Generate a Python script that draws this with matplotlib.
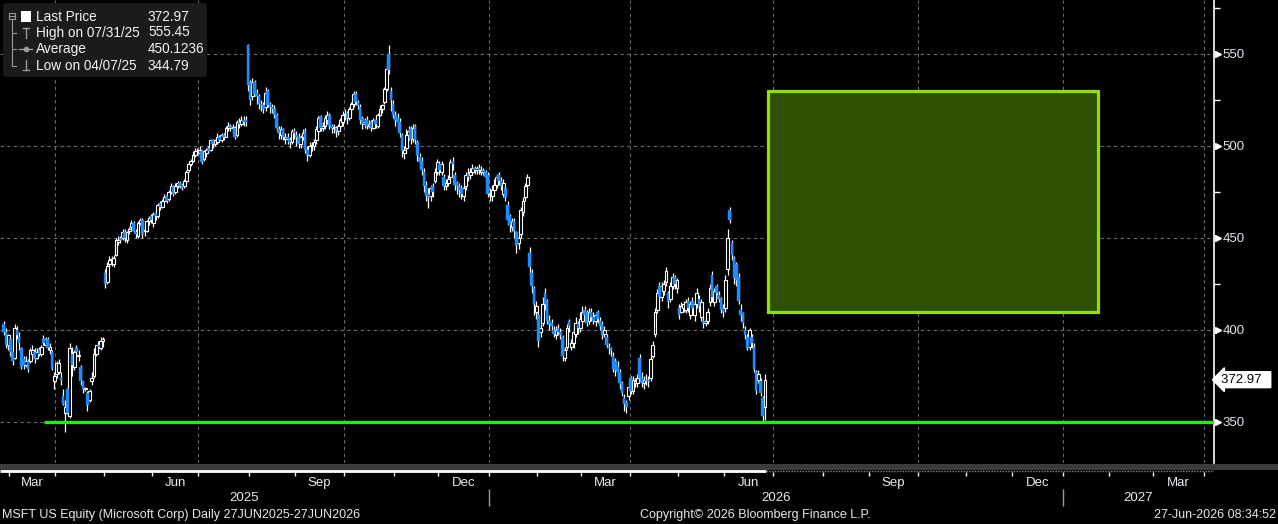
import numpy as np
import pandas as pd
import matplotlib
matplotlib.use('Agg')
import matplotlib.pyplot as plt
import matplotlib.transforms as mtransforms
from matplotlib.patches import Rectangle, FancyBboxPatch

plt.rcParams['font.family'] = ['Liberation Sans', 'DejaVu Sans']

# daily candles (one value per weekday from 26 Feb 2025)
opens = [
    403, 399, 392,  # Feb 25
    395, 388, 385, 400, 396, 390, 384, 381, 383, 383, 387, 388, 385, 389, 387, 395, 392, 395, 389, 388, 372,
    376, 377, 374, 364, 355, 368, 353, 387, 380, 390, 386, 380, 372, 368, 366, 362, 372, 375, 387, 392, 390, 394,
    431, 426, 436, 438, 436, 441, 448, 450, 450, 453, 449, 454, 456, 458, 453, 451, 458, 460, 454, 454, 459, 462,
    458, 463, 462, 469, 467, 470, 473, 471, 475, 478, 475, 478, 480, 479, 478, 481, 487, 490, 492, 495, 497,
    496, 497, 493, 496, 499, 498, 503, 501, 502, 505, 503, 506, 505, 510, 511, 510, 510, 506, 513, 512, 514, 514, 555,
    535, 527, 535, 529, 527, 523, 522, 521, 530, 523, 521, 520, 517, 509, 506, 509, 504, 505, 503, 502, 508,
    506, 505, 501, 505, 508, 498, 495, 500, 500, 503, 508, 516, 510, 511, 514, 517, 511, 510, 510, 508, 511, 513,
    517, 518, 515, 520, 523, 528, 524, 521, 515, 512, 514, 511, 513, 510, 514, 511, 517, 520, 524, 531, 550, 530, 523,
    517, 515, 513, 506, 496, 499, 506, 509, 504, 511, 502, 494, 492, 486, 479, 474, 473, 478, 481, 486,
    490, 486, 483, 478, 480, 483, 491, 484, 480, 478, 477, 473, 478, 485, 484, 486, 488, 487, 488, 486, 487, 486, 484,
    474, 473, 476, 479, 484, 481, 474, 477, 468, 462, 456, 459, 453, 447, 452, 464, 472, 479, 442, 431, 423, 410,
    408, 399, 404, 420, 416, 405, 404, 400, 397, 401, 399, 396, 385, 391, 405, 391, 393, 398, 404, 401,
    405, 411, 410, 405, 410, 407, 405, 410, 405, 403, 398, 396, 391, 390, 386, 383, 380, 377, 371, 363, 361, 364, 374, 367, 371,
    371, 385, 374, 371, 373, 373, 374, 386, 398, 411, 424, 418, 421, 426, 420, 417, 424, 429, 423, 412, 410, 412, 411, 416, 408,
    416, 408, 414, 417, 407, 405, 404, 405, 415, 430, 415, 424, 419, 417, 412, 412, 433, 465, 447, 439, 436,
    429, 411, 409, 400, 396, 391, 396, 391, 377, 373, 372, 363, 358,
]
highs = [
    405, 401, 398,
    397, 392, 403, 402, 399, 391, 386, 386, 384, 390, 392, 390, 390, 391, 392, 397, 396, 396, 393, 389, 377,
    383, 384, 377, 368, 362, 370, 393, 391, 389, 392, 389, 381, 372, 369, 367, 368, 377, 390, 392, 394, 396, 396,
    433, 437, 440, 440, 441, 450, 451, 451, 455, 455, 454, 456, 460, 459, 455, 459, 461, 461, 456, 460, 462, 463,
    464, 465, 469, 470, 471, 474, 474, 476, 480, 479, 480, 481, 481, 480, 482, 487, 491, 493, 497, 499, 499,
    500, 498, 498, 499, 500, 504, 504, 504, 507, 506, 507, 507, 511, 513, 512, 512, 511, 514, 515, 516, 516, 516, 555.45,
    536, 537, 536, 531, 528, 525, 524, 532, 531, 524, 523, 522, 518, 511, 511, 510, 507, 507, 505, 509, 510,
    508, 507, 506, 509, 510, 500, 502, 502, 504, 511, 516, 517, 513, 517, 519, 518, 512, 512, 511, 512, 515, 519,
    520, 519, 521, 524, 530, 530, 525, 523, 516, 515, 516, 514, 514, 515, 516, 518, 522, 523, 532, 546, 555, 532, 525,
    519, 518, 515, 507, 500, 509, 511, 511, 512, 512, 503, 496, 494, 488, 481, 477, 479, 480, 488, 493,
    492, 492, 485, 482, 484, 493, 494, 486, 481, 480, 479, 479, 486, 488, 488, 490, 489, 489, 490, 489, 488, 487, 486,
    477, 479, 482, 485, 486, 483, 482, 478, 470, 463, 461, 461, 454, 452, 467, 472, 480, 485, 445, 433, 424, 416,
    410, 403, 418, 423, 417, 408, 406, 402, 402, 403, 401, 397, 391, 403, 406, 395, 402, 407, 405, 410,
    413, 413, 411, 412, 412, 410, 409, 411, 407, 405, 402, 398, 393, 391, 388, 385, 383, 379, 372, 365, 362, 371, 375, 375, 374,
    376, 387, 377, 375, 376, 375, 386, 394, 412, 422, 426, 426, 427, 434, 421, 426, 431, 430, 428, 414, 415, 416, 417, 418, 416,
    418, 416, 423, 419, 417, 407, 407, 412, 425, 432, 423, 425, 421, 418, 414, 430, 455, 467, 449, 440, 437,
    431, 414, 410, 402, 398, 401, 398, 393, 378, 378, 374, 364, 376,
]
lows = [
    397, 390, 389,
    386, 381, 384, 395, 389, 379, 379, 380, 377, 382, 385, 382, 384, 386, 386, 392, 391, 389, 387, 378, 368,
    374, 376, 370, 359, 344.79, 353, 352, 375, 378, 386, 383, 370, 366, 367, 356, 361, 370, 374, 386, 388, 389, 391,
    423, 425, 434, 435, 434, 440, 446, 447, 449, 448, 447, 452, 455, 453, 450, 450, 457, 450, 451, 453, 457, 458,
    456, 460, 461, 465, 466, 469, 469, 470, 474, 473, 474, 477, 477, 476, 477, 480, 486, 489, 491, 494, 495,
    494, 490, 492, 494, 496, 497, 499, 500, 501, 502, 502, 503, 505, 508, 508, 507, 504, 505, 510, 511, 511, 511, 530,
    522, 525, 527, 523, 520, 519, 518, 519, 521, 518, 518, 515, 508, 504, 504, 503, 501, 501, 499, 501, 504,
    500, 499, 499, 503, 496, 492, 494, 497, 498, 501, 506, 508, 508, 509, 512, 509, 507, 507, 505, 506, 509, 511,
    514, 512, 514, 518, 521, 522, 520, 512, 509, 510, 509, 510, 508, 509, 510, 510, 516, 518, 523, 530, 539, 519, 515,
    511, 510, 505, 494, 493, 496, 503, 501, 502, 501, 492, 488, 484, 475, 470, 466, 470, 472, 480, 484,
    484, 484, 476, 476, 478, 481, 487, 476, 474, 472, 471, 470, 476, 481, 482, 484, 485, 485, 485, 484, 484, 481, 472,
    470, 470, 474, 477, 479, 476, 472, 470, 457, 453, 454, 450, 442, 444, 450, 462, 470, 477, 430, 420, 408, 406,
    391, 396, 402, 411, 403, 400, 399, 396, 395, 397, 395, 383, 383, 389, 399, 389, 390, 396, 398, 399,
    403, 406, 402, 403, 405, 403, 402, 404, 400, 395, 396, 390, 387, 386, 377, 375, 374, 368, 364, 356, 355, 362, 365, 365, 369,
    369, 372, 369, 368, 370, 369, 372, 385, 396, 409, 416, 416, 419, 424, 412, 415, 422, 422, 420, 406, 409, 410, 409, 410, 406,
    409, 405, 412, 410, 405, 401, 402, 403, 413, 415, 413, 418, 415, 409, 407, 410, 430, 458, 438, 425, 424,
    414, 405, 401, 395, 389, 389, 390, 377, 365, 371, 364, 350, 351,
]
closes = [
    399, 392, 397,
    388, 383, 401, 397, 393, 380, 381, 383, 379, 389, 389, 384, 388, 387, 391, 393, 395, 390, 391, 379, 375,
    382, 382, 373, 360, 358, 355, 390, 381, 388, 388, 386, 372, 368, 368, 359, 367, 374, 387, 392, 391, 394, 395,
    425, 435, 438, 438, 439, 449, 449, 449, 453, 450, 453, 455, 458, 454, 452, 458, 460, 452, 454, 459, 461, 460,
    463, 462, 468, 467, 470, 472, 470, 475, 478, 474, 478, 480, 478, 477, 481, 486, 490, 492, 495, 497, 497,
    498, 491, 497, 498, 497, 503, 501, 503, 505, 503, 506, 505, 510, 511, 510, 510, 505, 513, 512, 514, 513, 513, 533,
    525, 535, 528, 527, 523, 522, 520, 529, 522, 521, 520, 517, 510, 507, 509, 505, 505, 504, 502, 508, 507,
    505, 501, 505, 507, 498, 495, 500, 500, 502, 509, 515, 510, 511, 515, 517, 511, 510, 510, 508, 511, 514, 517,
    517, 515, 520, 523, 528, 524, 522, 514, 512, 513, 511, 512, 510, 514, 512, 517, 520, 522, 531, 542, 541, 525, 517,
    514, 513, 507, 497, 498, 506, 508, 504, 510, 503, 495, 491, 487, 478, 473, 472, 477, 475, 486, 491,
    487, 490, 478, 480, 482, 491, 490, 479, 478, 476, 474, 477, 484, 483, 486, 488, 487, 488, 487, 487, 486, 483, 474,
    474, 476, 479, 483, 481, 478, 480, 472, 460, 457, 459, 454, 446, 450, 465, 470, 478, 483, 434, 424, 414, 413,
    394, 401, 414, 414, 405, 403, 402, 398, 400, 399, 397, 386, 389, 401, 402, 393, 399, 404, 401, 406,
    410, 408, 404, 410, 407, 405, 408, 406, 402, 397, 400, 392, 390, 389, 379, 378, 377, 371, 366, 360, 358, 369, 367, 373, 372,
    374, 374, 371, 373, 372, 372, 384, 392, 410, 420, 418, 424, 425, 432, 416, 424, 429, 425, 427, 408, 413, 414, 415, 412, 414,
    412, 414, 420, 413, 415, 404, 405, 410, 423, 418, 421, 420, 417, 411, 410, 427, 450, 460, 441, 428, 427,
    416, 408, 404, 397, 390, 400, 393, 379, 367, 376, 366, 353, 372.97,
]

last_price = 372.97
support_level = 350
target_low, target_high = 410, 530
target_start, target_end = '2026-06-29', '2027-01-25'
support_start = '2025-03-25'

legend_rows = [('Last Price', '372.97'), ('High on 07/31/25', '555.45'),
               ('Average', '450.1236'), ('Low on 04/07/25', '344.79')]
y_major = [350, 400, 450, 500, 550]
y_minor = [375, 425, 475, 525, 575]

# ---------------------------------------------------------------
W, H = 1278, 524
AX_R, AX_B = 1214, 463          # right edge / bottom of the price panel (px)
PX_PER_DAY = 2.2

n = min(len(opens), len(highs), len(lows), len(closes))
o = np.array(opens[:n], float)
h = np.array(highs[:n], float)
l = np.array(lows[:n], float)
c = np.array(closes[:n], float)
xs = np.arange(n)

all_days = pd.bdate_range('2025-02-26', '2027-06-30')
def pos(d):
    return all_days.searchsorted(pd.Timestamp(d))

xmin = -1.7
xmax = xmin + AX_R / PX_PER_DAY

fig = plt.figure(figsize=(W / 100, H / 100), dpi=100, facecolor='black')
ax = fig.add_axes([0, 1 - AX_B / H, AX_R / W, AX_B / H])
ax.set_facecolor('black')
ax.set_xlim(xmin, xmax)
ax.set_ylim(327.7, 579.3)

grid_col = '#6c6c6c'
for v in y_major:
    ax.axhline(v, color=grid_col, lw=0.8, ls=(0, (3, 3)), zorder=1)
months = pd.date_range('2025-03-01', '2027-05-01', freq='MS')
for m in months:
    if m.month in (1, 4, 7, 10):
        b = pos(m) - 0.5
        if xmin < b < xmax:
            ax.axvline(b, color=grid_col, lw=0.8, ls=(0, (3, 3)), zorder=1)

# candles
up = c >= o
lo_body = np.minimum(o, c)
h_body = np.maximum(np.abs(c - o), 0.4)
ax.vlines(xs, l, h, color='white', lw=0.9, zorder=2)
ax.bar(xs[up], h_body[up], bottom=lo_body[up], width=1.3, facecolor='black',
       edgecolor='white', lw=0.8, zorder=3)
ax.bar(xs[~up], h_body[~up], bottom=lo_body[~up], width=1.2, facecolor='#1e8cff',
       edgecolor='#1e8cff', lw=0.3, zorder=3)

# support line and target box
ax.hlines(support_level, pos(support_start) - 0.5, xmax, color='#22ee11', lw=2.3, zorder=4)
x0 = pos(target_start) - 0.5
x1 = pos(target_end) - 0.5
ax.add_patch(Rectangle((x0, target_low), x1 - x0, target_high - target_low,
                       facecolor='#2e5100', edgecolor='#8fe000', lw=2.3, zorder=4))

# right axis
ax.yaxis.tick_right()
ax.set_yticks(y_major)
ax.set_yticklabels([str(v) for v in y_major])
ax.set_yticks(y_minor, minor=True)
ax.tick_params(axis='y', which='major', length=0, pad=6, labelcolor='#dde6ee', labelsize=9.5)
ax.tick_params(axis='y', which='minor', length=4, width=1, color='white', direction='out')
ax.set_xticks([])
for s in ['left', 'top', 'bottom']:
    ax.spines[s].set_visible(False)
ax.spines['right'].set_color('white')
ax.spines['right'].set_linewidth(1.2)

trans = mtransforms.blended_transform_factory(ax.transAxes, ax.transData)
ax.plot([1.0 + 3.5 / AX_R] * len(y_major), y_major, marker='>', ms=4.5, color='white',
        ls='none', transform=trans, clip_on=False, zorder=6)
ax.text(1.0 + 7 / AX_R, last_price, '372.97  ', transform=trans, ha='left', va='center',
        color='black', fontsize=9.5, clip_on=False,
        bbox=dict(boxstyle='larrow,pad=0.15', fc='white', ec='white'))

# bottom time axis strip (x in data units, y in pixels)
ax_bot = fig.add_axes([0, 0, AX_R / W, (H - AX_B) / H])
ax_bot.set_xlim(xmin, xmax)
ax_bot.set_ylim(H, AX_B)
ax_bot.axis('off')
ax_bot.hlines(471, xmin, n - 0.5, color='white', lw=2)
ax_bot.hlines(471, n - 0.5, xmax, color='#8a8a8a', lw=1, ls=(0, (1, 1)))
lab_col = '#e6ecf2'
for i, m in enumerate(months[:-1]):
    b = pos(m) - 0.5
    if xmin < b < xmax:
        ax_bot.vlines(b, 472, 476, color='white', lw=1)
    if m.month in (3, 6, 9, 12):
        mid = (pos(m) + pos(months[i + 1])) / 2 - 0.5
        if xmin < mid < xmax:
            ax_bot.text(mid, 483, m.strftime('%b'), ha='center', va='center',
                        color=lab_col, fontsize=9.5)
y26 = pos('2026-01-01') - 0.5
y27 = pos('2027-01-01') - 0.5
ax_bot.vlines([y26, y27], 489, 506, color='#9a9a9a', lw=1)
for a, b, yr in [(xmin, y26, '2025'), (y26, y27, '2026'), (y27, xmax, '2027')]:
    ax_bot.text((a + b) / 2, 498, yr, ha='center', va='center', color=lab_col, fontsize=9.5)

# overlay in pixel coordinates: legend, scroll bar, footer
ov = fig.add_axes([0, 0, 1, 1], zorder=5)
ov.set_xlim(0, W)
ov.set_ylim(H, 0)
ov.axis('off')
ov.patch.set_visible(False)
ov.add_patch(Rectangle((0, 463.5), W, 6, facecolor='#3c3c3c', edgecolor='none'))

ov.add_patch(FancyBboxPatch((3, 3), 204, 74, boxstyle='round,pad=0,rounding_size=4',
                            facecolor='#1b1b1b', edgecolor='none'))
gray = '#9a9a9a'
ov.add_patch(Rectangle((9, 13), 6, 6, facecolor='none', edgecolor=gray, lw=0.8))
ov.plot([10, 14], [16, 16], color=gray, lw=0.8)
ov.plot([12, 12], [19, 66], color=gray, lw=0.8)
row_y = [17, 32.5, 49, 65.5]
for yy in row_y[1:]:
    ov.plot([12, 16], [yy, yy], color=gray, lw=0.8)
ov.add_patch(Rectangle((21, 11), 10, 11, facecolor='white', edgecolor='none'))
ov.plot([25.5, 25.5], [28, 38], color=gray, lw=1)
ov.plot([22.5, 28.5], [28, 28], color=gray, lw=1)
ov.plot([19, 32], [49, 49], color=gray, lw=1)
ov.plot([25.5], [49], marker='o', ms=3, color=gray)
ov.plot([25.5, 25.5], [60, 70], color=gray, lw=1)
ov.plot([22.5, 28.5], [70, 70], color=gray, lw=1)
for (name, val), yy in zip(legend_rows, row_y):
    ov.text(36, yy, name, color='#f2f2f2', fontsize=9.8, va='center', ha='left')
    ov.text(148, yy, val, color='#f2f2f2', fontsize=9.8, va='center', ha='left')

foot_col = '#e8e8e8'
ov.text(2, 515, 'MSFT US Equity (Microsoft Corp) Daily 27JUN2025-27JUN2026',
        color=foot_col, fontsize=9, va='center', ha='left')
ov.text(755, 515, 'Copyright\u00a9 2026 Bloomberg Finance L.P.',
        color=foot_col, fontsize=9, va='center', ha='center')
ov.text(1276, 515, '27-Jun-2026 08:34:52', color=foot_col, fontsize=9, va='center', ha='right')

fig.savefig('out.png', dpi=100, facecolor='black')
